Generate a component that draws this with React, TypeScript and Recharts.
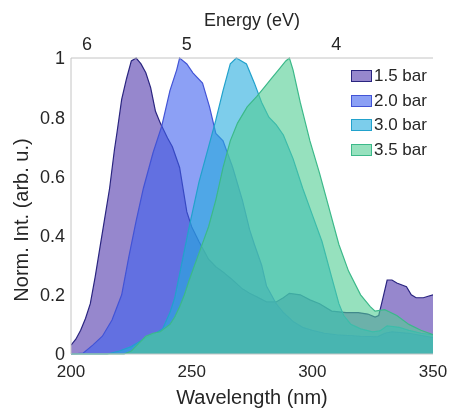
import React from 'react';
import { ComposedChart, Area, XAxis, YAxis, Legend } from 'recharts';

// ---- data ----
const seriesNames = ['1.5 bar', '2.0 bar', '3.0 bar', '3.5 bar'];

const wl15 = [200,202,204,206,208,210,212,214,216,218,219,221,223,225,227,229,231,233,235,237,240,242,245,248,250,253,255,257,260,263,267,271,274,277,281,285,288,290.5,295,299,303,308,314,319,323,326,327.5,329,331,333,335,339,341,343,346,348,350];
const int15 = [0.03,0.05,0.08,0.12,0.17,0.26,0.36,0.46,0.56,0.69,0.745,0.86,0.93,0.99,1.0,0.98,0.95,0.9,0.82,0.78,0.73,0.7,0.63,0.48,0.43,0.38,0.35,0.32,0.295,0.277,0.25,0.22,0.205,0.193,0.176,0.176,0.19,0.205,0.2,0.183,0.17,0.145,0.14,0.14,0.135,0.125,0.13,0.18,0.25,0.25,0.24,0.227,0.2,0.19,0.19,0.195,0.2];

const wl20 = [200,205,209,213,217,221,224,227,230,234,237.6,241,243.8,245,248,250.5,254.5,257.4,260,263,267,271,274,276,279,281,283,285,288,292,296,300,305,310,320,327,330,333,340,350];
const int20 = [0,0.003,0.03,0.06,0.115,0.2,0.33,0.45,0.56,0.68,0.77,0.89,0.96,1.0,0.98,0.95,0.915,0.835,0.745,0.72,0.63,0.52,0.42,0.37,0.3,0.23,0.2,0.17,0.14,0.11,0.09,0.08,0.07,0.065,0.06,0.058,0.07,0.075,0.07,0.055];

const wl30 = [200,215,220,225,230,235,238,241,243,245,249,253,257,260,263,266,268.5,272.7,276,279,282,285,288,292,296,300,304,308,311,313,316,320,325,328,331,336,340,345,350];
const int30 = [0,0,0.01,0.025,0.05,0.07,0.085,0.14,0.19,0.27,0.43,0.58,0.7,0.79,0.89,0.98,1.0,0.98,0.915,0.85,0.8,0.775,0.74,0.66,0.56,0.47,0.38,0.26,0.17,0.13,0.1,0.085,0.075,0.078,0.095,0.09,0.08,0.07,0.065];

const wl35 = [200,222,225,228,231,234,237,241,243,245,247,249,253,257,260,263,266,269,273,277,280,283,286,289,290.5,292,295,299,303,307,311,315,320,324,326,330,335,340,345,350];
const int35 = [0,0,0.01,0.035,0.06,0.07,0.075,0.1,0.125,0.16,0.2,0.25,0.34,0.43,0.52,0.63,0.72,0.78,0.835,0.87,0.9,0.93,0.96,0.99,1.0,0.96,0.85,0.72,0.61,0.49,0.37,0.28,0.2,0.16,0.145,0.15,0.13,0.1,0.08,0.065];

const xTicks = [200, 250, 300, 350];
const yTicks = [0, 0.2, 0.4, 0.6, 0.8, 1];
const energyTicks = [6, 5, 4];

// ---- styles ----
const fills = ['#5037ac', '#3f61ee', '#26acde', '#50cd93'];
const strokes = ['#2a2580', '#4254d6', '#22a2cc', '#3cb98a'];
const FILL_OPACITY = 0.6;
const FONT = '"Liberation Sans", Arial, sans-serif';
const TXT = '#262626';
const AX = '#c4c4c4';

// merged table
const allSeries = [
  { x: wl15, y: int15 },
  { x: wl20, y: int20 },
  { x: wl30, y: int30 },
  { x: wl35, y: int35 },
];
const xs = Array.from(new Set(allSeries.flatMap((s) => s.x))).sort((a, b) => a - b);
const data = xs.map((x) => {
  const row: Record<string, number | null> = { wl: x };
  allSeries.forEach((s, i) => {
    const idx = s.x.indexOf(x);
    row['s' + i] = idx >= 0 ? s.y[idx] : null;
  });
  return row;
});

const HC = 1239.84;
const topTickPositions = energyTicks.map((e) => HC / e);

const YLabel = () => {
  const cx = 13;
  const cy = 212;
  return (
    <text
      x={cx}
      y={cy}
      transform={`rotate(-90, ${cx}, ${cy})`}
      textAnchor="middle"
      dominantBaseline="central"
      fontFamily={FONT}
      fontSize={20}
      fill={TXT}
    >
      Norm. Int. (arb. u.)
    </text>
  );
};

const LegendContent = () => (
  <div style={{ fontFamily: FONT, fontSize: 17, color: TXT, lineHeight: '24.5px' }}>
    {seriesNames.map((n, i) => (
      <div key={n} style={{ display: 'flex', alignItems: 'center', height: 24.5 }}>
        <span
          style={{
            display: 'inline-block',
            width: 21,
            height: 12,
            background: fills[i],
            boxSizing: 'border-box',
            border: `1.2px solid ${strokes[i]}`,
            marginRight: 2,
            position: 'relative',
          }}
        >
          <span style={{ position: 'absolute', inset: 0, background: 'rgba(255,255,255,0.4)' }} />
        </span>
        <span>{n}</span>
      </div>
    ))}
  </div>
);

export default function App() {
  return (
    <div style={{ position: 'fixed', left: 8, top: 8, width: 441, height: 400 }}>
      <style>{`html,body{overflow:hidden}.recharts-surface{overflow:visible}`}</style>
      <ComposedChart
        width={441}
        height={400}
        data={data}
        margin={{ top: 0, right: 16, bottom: 0, left: 0 }}
        style={{ overflow: 'visible' }}
      >
        <XAxis
          xAxisId="bottom"
          dataKey="wl"
          type="number"
          domain={[200, 350]}
          ticks={xTicks}
          interval={0}
          allowDataOverflow
          height={54}
          stroke={AX}
          tickLine={false}
          tickMargin={5}
          tick={{ fill: TXT, fontSize: 17, fontFamily: FONT }}
          label={{
            value: 'Wavelength (nm)',
            position: 'insideBottom',
            offset: 4,
            fill: TXT,
            fontSize: 20,
            fontFamily: FONT,
          }}
        />
        <XAxis
          xAxisId="top"
          orientation="top"
          dataKey="wl"
          type="number"
          domain={[200, 350]}
          ticks={topTickPositions}
          interval={0}
          tickFormatter={(v: number) => String(Math.round(HC / v))}
          allowDataOverflow
          height={50}
          stroke={AX}
          tickLine={false}
          tickMargin={2}
          tick={{ fill: TXT, fontSize: 18, fontFamily: FONT }}
          label={{
            value: 'Energy (eV)',
            position: 'insideTop',
            offset: 5,
            fill: TXT,
            fontSize: 18,
            fontFamily: FONT,
          }}
        />
        <YAxis
          yAxisId="left"
          type="number"
          domain={[0, 1]}
          ticks={yTicks}
          interval={0}
          width={63}
          stroke={AX}
          tickLine={false}
          tickMargin={0}
          tickFormatter={(v: number) => String(v)}
          tick={{ fill: TXT, fontSize: 18, fontFamily: FONT }}
          label={<YLabel />}
        />
        <YAxis
          yAxisId="right"
          orientation="right"
          type="number"
          domain={[0, 1]}
          width={0}
          tick={false}
          tickLine={false}
          stroke={AX}
        />
        {seriesNames.map((n, i) => (
          <Area
            key={n}
            name={n}
            xAxisId="bottom"
            yAxisId="left"
            type="linear"
            dataKey={'s' + i}
            connectNulls
            baseValue={0}
            fill={fills[i]}
            fillOpacity={FILL_OPACITY}
            stroke={strokes[i]}
            strokeWidth={1.2}
            dot={false}
            activeDot={false}
            isAnimationActive={false}
          />
        ))}
        <Legend
          layout="horizontal"
          verticalAlign="middle"
          align="center"
          content={<LegendContent />}
          wrapperStyle={{ position: 'absolute', top: 56, left: 343, width: 'auto', height: 'auto' }}
        />
      </ComposedChart>
    </div>
  );
}
